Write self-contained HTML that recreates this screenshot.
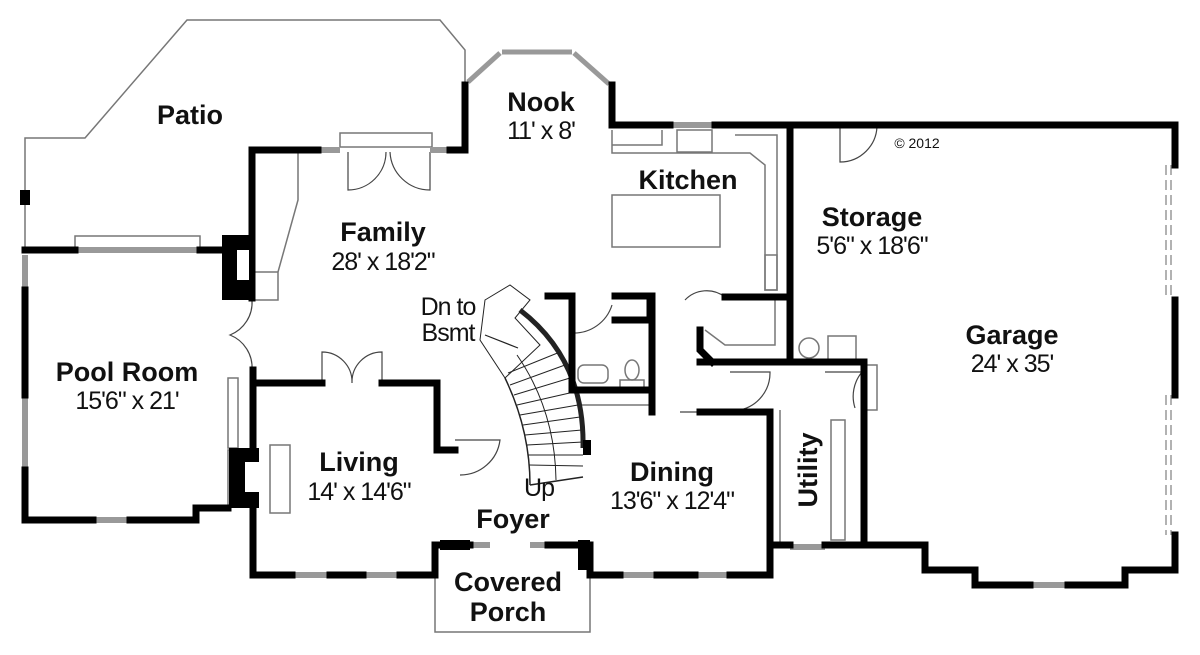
<!DOCTYPE html>
<html><head><meta charset="utf-8"><style>
html,body{margin:0;padding:0;background:#fff}
svg{display:block}
text{font-family:"Liberation Sans",sans-serif;fill:#111;text-anchor:middle}
.n{font-weight:bold;font-size:27px}
.d{font-size:25px;letter-spacing:-1px}
</style></head><body>
<svg width="1200" height="655" viewBox="0 0 1200 655" xmlns="http://www.w3.org/2000/svg">
<g fill="none" stroke="#777" stroke-width="1.5">
<!-- patio outline -->
<polyline points="25,250 25,138 85,138 187,20 440,20 465,50 465,85"/>
<!-- porch -->
<polyline points="435,575 435,632 590,632 590,575"/>
<!-- family door frame -->
<rect x="340" y="133" width="92" height="14"/>
<rect x="75" y="236" width="125" height="12"/>
<!-- family chimney -->
<polyline points="298,152 298,200 278,272 278,300 255,300"/>
<line x1="255" y1="272" x2="278" y2="272"/>
<!-- kitchen counters -->
<polyline points="612,130 612,153 750,153 765,165 765,290 777,290 777,135 735,135"/>
<polyline points="612,145 662,145 662,130"/>
<rect x="612" y="195" width="108" height="52"/>
<rect x="677" y="130" width="35" height="22"/>
<rect x="765" y="255" width="12" height="35"/>
<!-- living fireplace hearth -->
<rect x="270" y="445" width="20" height="68"/>
<rect x="228" y="378" width="10" height="70"/>
<rect x="228" y="450" width="10" height="55"/>
<!-- utility -->
<polyline points="780,410 780,545"/>
<rect x="831" y="420" width="14" height="120"/>
<rect x="862" y="365" width="15" height="45"/>
<circle cx="809" cy="348" r="10"/>
<rect x="828" y="336" width="28" height="24"/>
<!-- bath -->
<rect x="578" y="365" width="30" height="18" rx="6"/>
<ellipse cx="632" cy="370" rx="7" ry="10"/>
<rect x="620" y="380" width="24" height="8"/>
<line x1="578" y1="405" x2="652" y2="405"/>
<!-- pantry etc -->
<polyline points="705,330 725,345 775,345 775,300"/>
</g>
<!-- doors swings -->
<g fill="none" stroke="#444" stroke-width="1.2">
<path d="M348,152 L348,190 A38,38 0 0 0 386,152 M430,152 L430,190 A40,40 0 0 1 390,152"/>
<path d="M322,383 L322,352 A30,30 0 0 1 352,383 M382,383 L382,352 A30,30 0 0 0 352,383"/>
<path d="M252,300 A35,35 0 0 1 230,335 A35,35 0 0 1 252,370"/>
<path d="M840,125 L840,162 A37,37 0 0 0 877,125"/>
<path d="M572,333 A40,40 0 0 0 612,305"/>
<path d="M730,372 L770,372 A38,38 0 0 1 740,410"/>
<path d="M825,372 L862,372 A38,38 0 0 0 855,408"/>
<path d="M455,440 L500,440 A40,40 0 0 1 460,475"/>
<path d="M685,300 A30,30 0 0 1 725,297"/>
<line x1="680" y1="412" x2="700" y2="412"/>
</g>
<!-- stairs -->
<g fill="none" stroke="#222">
<path d="M520,310 Q585,360 583,448" stroke-width="5"/>
<path d="M505,378 Q530,430 530,485" stroke-width="1.5"/>
<path d="M517,355 Q555,410 556,480" stroke-width="1"/>
<path d="M530,485 L583,477" stroke-width="1.5"/>
<g stroke-width="1">
<line x1="510" y1="385" x2="565" y2="365"/><line x1="514" y1="395" x2="570" y2="378"/>
<line x1="517" y1="405" x2="574" y2="392"/><line x1="520" y1="415" x2="578" y2="405"/>
<line x1="523" y1="425" x2="580" y2="417"/><line x1="525" y1="435" x2="582" y2="430"/>
<line x1="527" y1="445" x2="583" y2="442"/><line x1="528" y1="455" x2="583" y2="455"/>
<line x1="529" y1="465" x2="583" y2="466"/><line x1="508" y1="373" x2="560" y2="352"/>
<path d="M485,300 L510,285 L530,300 L515,318 L540,345 L505,378 L480,340 Z"/>
</g>
<line x1="485" y1="335" x2="518" y2="348" stroke-width="1.2"/>
</g>
<!-- windows -->
<g stroke="#999" stroke-width="6">
<line x1="75" y1="250" x2="200" y2="250"/>
<line x1="318" y1="150" x2="340" y2="150"/><line x1="430" y1="150" x2="450" y2="150"/>
<line x1="25" y1="255" x2="25" y2="290"/><line x1="25" y1="395" x2="25" y2="470"/>
<line x1="93" y1="520" x2="130" y2="520"/>
<line x1="292" y1="575" x2="330" y2="575"/><line x1="363" y1="575" x2="400" y2="575"/>
<line x1="620" y1="575" x2="657" y2="575"/><line x1="695" y1="575" x2="730" y2="575"/>
<line x1="790" y1="547" x2="825" y2="547"/><line x1="1030" y1="585" x2="1068" y2="585"/>
<line x1="670" y1="125" x2="715" y2="125"/>
<line x1="470" y1="545" x2="490" y2="545"/><line x1="530" y1="545" x2="548" y2="545"/>
<line x1="468" y1="82" x2="500" y2="53" stroke-width="5"/><line x1="502" y1="52" x2="572" y2="52" stroke-width="5"/><line x1="574" y1="53" x2="609" y2="84" stroke-width="5"/>
</g>
<g stroke="#999" stroke-width="1.5" stroke-dasharray="10,5">
<line x1="1166" y1="165" x2="1166" y2="300"/><line x1="1171" y1="165" x2="1171" y2="300"/>
<line x1="1166" y1="395" x2="1166" y2="535"/><line x1="1171" y1="395" x2="1171" y2="535"/>
</g>
<!-- walls -->
<g fill="none" stroke="#000" stroke-width="7" stroke-linecap="square">
<polyline points="25,290 25,395"/><polyline points="25,470 25,520 93,520"/><polyline points="130,520 196,520 196,508 228,508"/>
<polyline points="25,250 75,250"/><polyline points="200,250 225,250"/>
<polyline points="252,298 252,150 318,150"/><polyline points="450,150 465,150 465,85"/>
<polyline points="612,85 612,125 670,125"/><polyline points="715,125 1175,125 1175,165"/>
<polyline points="1175,300 1175,395"/><polyline points="1175,535 1175,570 1125,570 1125,585 1068,585"/>
<polyline points="1030,585 975,585 975,570 925,570 925,545 864,545 864,362"/>
<polyline points="864,545 825,545"/><polyline points="790,545 770,545"/>
<polyline points="770,412 770,575 730,575"/><polyline points="695,575 657,575"/><polyline points="620,575 590,575 590,545 548,545"/>
<polyline points="470,545 435,545 435,575 400,575"/><polyline points="363,575 330,575"/><polyline points="292,575 253,575 253,370"/>
<polyline points="790,125 790,362"/><polyline points="700,362 864,362"/>
<polyline points="253,383 322,383"/><polyline points="382,383 437,383 437,450 455,450"/>
<polyline points="548,296 572,296 572,390 652,390"/><polyline points="615,296 650,296 650,320 615,320"/><polyline points="652,296 652,412"/>
<polyline points="700,412 770,412"/><polyline points="725,297 790,297"/>
<polyline points="700,330 700,350 712,362"/>
</g>
<g fill="#000">
<rect x="20" y="190" width="10" height="15"/>
<rect x="222" y="235" width="28" height="65"/>
<rect x="229" y="448" width="30" height="60"/>
<rect x="440" y="540" width="30" height="10"/><rect x="578" y="540" width="12" height="30"/>
<rect x="583" y="440" width="8" height="15"/>
</g>
<g fill="#fff"><rect x="237" y="250" width="12" height="30"/><rect x="245" y="462" width="14" height="30"/></g>
<!-- labels -->
<text class="n" x="190" y="124">Patio</text>
<text class="n" x="541" y="111">Nook</text><text class="d" x="541" y="139">11' x 8'</text>
<text class="n" x="688" y="189">Kitchen</text>
<text x="917" y="148" style="font-size:14px">© 2012</text>
<text class="n" x="383" y="241">Family</text><text class="d" x="383" y="270">28' x 18'2"</text>
<text class="n" x="872" y="226">Storage</text><text class="d" x="872" y="254">5'6" x 18'6"</text>
<text class="n" x="1012" y="344">Garage</text><text class="d" x="1012" y="372">24' x 35'</text>
<text class="n" x="127" y="381">Pool Room</text><text class="d" x="127" y="409">15'6" x 21'</text>
<text class="d" x="448" y="315">Dn to</text><text class="d" x="448" y="341">Bsmt</text>
<text class="n" x="359" y="471">Living</text><text class="d" x="359" y="500">14' x 14'6"</text>
<text class="d" x="539" y="496">Up</text>
<text class="n" x="513" y="528">Foyer</text>
<text class="n" x="672" y="481">Dining</text><text class="d" x="672" y="509">13'6" x 12'4"</text>
<text class="n" x="0" y="0" transform="translate(817,470) rotate(-90)">Utility</text>
<text class="n" x="508" y="591">Covered</text><text class="n" x="508" y="621">Porch</text>
</svg>
</body></html>
